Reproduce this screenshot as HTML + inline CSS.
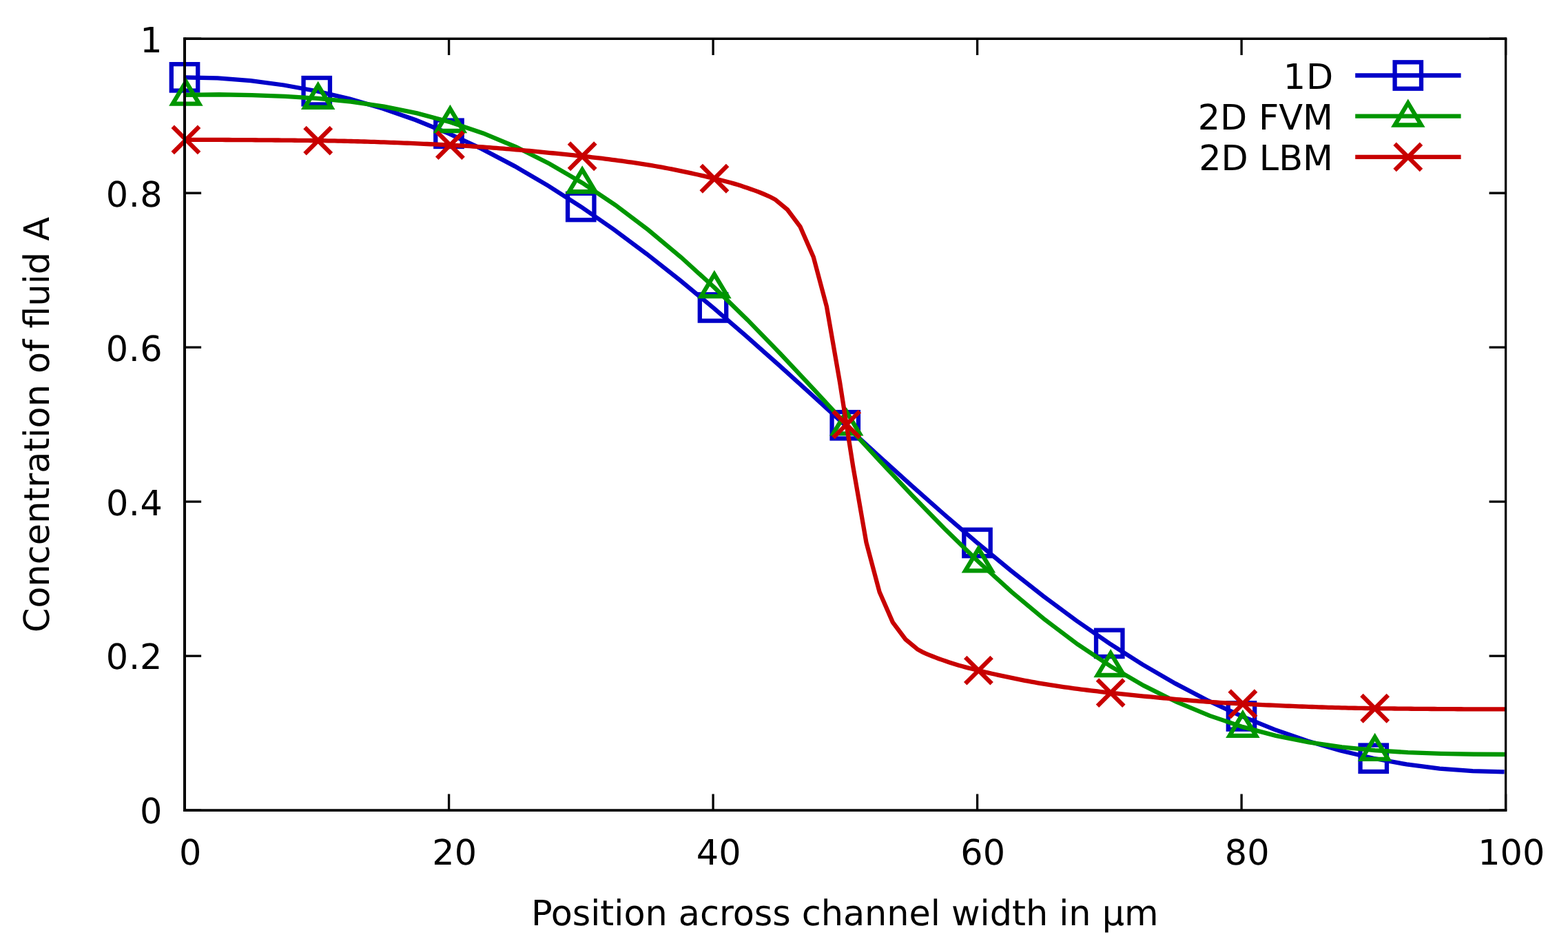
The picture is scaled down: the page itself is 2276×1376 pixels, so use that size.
<!DOCTYPE html>
<html lang="en"><head><meta charset="utf-8"><title>Concentration of fluid A across channel width</title>
<style>html,body{margin:0;padding:0;background:#fff;}body{width:2276px;height:1376px;overflow:hidden;}svg{display:block;}text{font-family:"DejaVu Sans","Liberation Sans",sans-serif;font-size:50.9px;fill:#000;text-rendering:geometricPrecision;}</style></head><body>
<svg xmlns="http://www.w3.org/2000/svg" width="2276" height="1376" viewBox="0 0 2276 1376">
<rect x="0" y="0" width="2276" height="1376" fill="#ffffff"/>
<defs><clipPath id="plotclip"><rect x="268" y="56" width="1917.5" height="1120"/></clipPath></defs>
<g id="ylabels">
<text text-anchor="start" x="202.97" y="1194.6">0</text>
<text text-anchor="start" x="153.86 186.92 203.05" y="970.8">0.2</text>
<text text-anchor="start" x="153.96 186.87 203.39" y="747.9">0.4</text>
<text text-anchor="start" x="153.86 186.87 203.29" y="524.1">0.6</text>
<text text-anchor="start" x="153.77 186.87 203.2" y="299.6">0.8</text>
<text text-anchor="start" x="203.17" y="75.6">1</text>
</g>
<g id="xlabels" text-anchor="middle">
<text x="276.2" y="1255.2">0</text>
<text x="659.7" y="1255.2">20</text>
<text x="1043.2" y="1255.2">40</text>
<text x="1426.7" y="1255.2">60</text>
<text x="1810.2" y="1255.2">80</text>
<text x="2193.7" y="1255.2">100</text>
</g>
<text id="xtitle" text-anchor="middle" x="1226.25" y="1343" textLength="910.7" lengthAdjust="spacing">Position across channel width in µm</text>
<text id="ytitle" text-anchor="middle" transform="translate(71,616.5) rotate(-90)">Concentration of fluid A</text>
<g id="s0" fill="none" stroke="#0000c8" stroke-width="6.3" stroke-linejoin="miter" stroke-linecap="butt">
<text x="1862.72 1896.11" y="129.4" text-anchor="start" stroke="none">1D</text>
<path d="M1967.2,109.5 L2120.6,109.5"/>
<rect x="2024.6" y="90.3" width="38.4" height="38.4"/>
<polyline clip-path="url(#plotclip)" points="268,112.34 315.94,113.45 363.88,117.22 411.81,123.5 459.75,132.23 507.69,143.56 555.62,157.56 603.56,174.29 651.5,193.78 699.44,216.18 747.38,241.38 795.31,269.36 843.25,300.02 891.19,333.26 939.12,368.9 987.06,406.71 1035,446.41 1082.94,487.7 1130.88,530.2 1178.81,573.53 1226.75,617.28 1274.69,661.01 1322.62,704.3 1370.56,746.75 1418.5,787.95 1466.44,827.55 1514.38,865.24 1562.31,900.75 1610.25,933.84 1658.19,964.35 1706.12,992.16 1754.06,1017.2 1802,1039.44 1849.94,1058.87 1897.88,1075.53 1945.81,1089.47 1993.75,1100.75 2041.69,1109.43 2089.62,1115.56 2137.56,1119.2 2183.58,1120.36"/>
<rect x="248.8" y="93.14" width="38.4" height="38.4"/>
<rect x="440.55" y="113.03" width="38.4" height="38.4"/>
<rect x="632.3" y="174.58" width="38.4" height="38.4"/>
<rect x="824.05" y="280.82" width="38.4" height="38.4"/>
<rect x="1015.8" y="427.21" width="38.4" height="38.4"/>
<rect x="1207.55" y="598.08" width="38.4" height="38.4"/>
<rect x="1399.3" y="768.75" width="38.4" height="38.4"/>
<rect x="1591.05" y="914.64" width="38.4" height="38.4"/>
<rect x="1782.8" y="1020.24" width="38.4" height="38.4"/>
<rect x="1974.55" y="1081.55" width="38.4" height="38.4"/>
</g>
<g id="s1" fill="none" stroke="#009600" stroke-width="6.3" stroke-linejoin="miter" stroke-linecap="butt">
<text x="1738.7 1771.08 1810.83 1827 1856.27 1891.08" y="187.6" text-anchor="start" stroke="none">2D FVM</text>
<path d="M1967.2,168.7 L2120.6,168.7"/>
<path d="M2024.6,181.5 L2043.8,149.5 L2063,181.5 Z"/>
<polyline clip-path="url(#plotclip)" points="269.92,137.81 317.86,137.27 365.79,138.17 413.73,139.94 461.67,142.97 509.61,147.73 557.54,154.71 605.48,164.39 653.42,177.19 701.36,193.46 749.29,213.48 797.23,237.43 845.17,265.45 893.11,297.56 941.04,333.71 988.98,373.76 1036.92,417.39 1084.86,464.16 1132.79,513.47 1180.73,564.56 1228.67,616.56 1276.61,668.55 1324.54,719.6 1372.48,768.86 1420.42,815.58 1468.36,859.14 1516.29,899.1 1564.23,935.17 1612.17,967.2 1660.11,995.12 1708.04,1018.99 1755.98,1038.92 1803.92,1055.12 1851.86,1067.85 1899.79,1077.46 1947.73,1084.39 1995.67,1089.11 2043.61,1092.11 2091.54,1093.86 2139.48,1094.74 2187.42,1095"/>
<path d="M250.72,150.61 L269.92,118.61 L289.12,150.61 Z"/>
<path d="M442.47,155.77 L461.67,123.77 L480.87,155.77 Z"/>
<path d="M634.22,189.99 L653.42,157.99 L672.62,189.99 Z"/>
<path d="M825.97,278.25 L845.17,246.25 L864.37,278.25 Z"/>
<path d="M1017.72,430.19 L1036.92,398.19 L1056.12,430.19 Z"/>
<path d="M1209.47,629.36 L1228.67,597.36 L1247.87,629.36 Z"/>
<path d="M1401.22,828.38 L1420.42,796.38 L1439.62,828.38 Z"/>
<path d="M1592.97,980 L1612.17,948 L1631.37,980 Z"/>
<path d="M1784.72,1067.92 L1803.92,1035.92 L1823.12,1067.92 Z"/>
<path d="M1976.47,1101.91 L1995.67,1069.91 L2014.87,1101.91 Z"/>
</g>
<g id="s2" fill="none" stroke="#c80000" stroke-width="6.3" stroke-linejoin="miter" stroke-linecap="butt">
<text x="1740.2 1772.5 1811.64 1827.81 1856.17 1891.08" y="246.8" text-anchor="start" stroke="none">2D LBM</text>
<path d="M1967.2,227.9 L2120.6,227.9"/>
<path d="M2024.6,208.7 L2063,247.1 M2024.6,247.1 L2063,208.7"/>
<polyline clip-path="url(#plotclip)" points="269.92,202.85 274.71,202.85 279.5,202.85 284.3,202.86 289.09,202.87 293.89,202.88 298.68,202.89 303.47,202.9 308.27,202.91 313.06,202.93 317.86,202.95 322.65,202.97 327.44,202.99 332.24,203.01 337.03,203.04 341.82,203.06 346.62,203.09 351.41,203.12 356.2,203.15 361,203.18 365.79,203.21 370.59,203.25 375.38,203.28 380.17,203.32 384.97,203.36 389.76,203.4 394.56,203.44 399.35,203.48 404.14,203.52 408.94,203.57 413.73,203.61 418.52,203.66 423.32,203.7 428.11,203.75 432.9,203.8 437.7,203.85 442.49,203.9 447.29,203.95 452.08,204 456.87,204.05 461.67,204.1 466.46,204.16 471.25,204.22 476.05,204.29 480.84,204.37 485.64,204.45 490.43,204.54 495.22,204.64 500.02,204.75 504.81,204.86 509.61,204.98 514.4,205.1 519.19,205.23 523.99,205.36 528.78,205.5 533.57,205.65 538.37,205.8 543.16,205.96 547.95,206.12 552.75,206.28 557.54,206.45 562.34,206.63 567.13,206.81 571.92,206.99 576.72,207.18 581.51,207.37 586.31,207.57 591.1,207.76 595.89,207.97 600.69,208.17 605.48,208.38 610.27,208.59 615.07,208.81 619.86,209.02 624.65,209.24 629.45,209.46 634.24,209.69 639.04,209.91 643.83,210.14 648.62,210.37 653.42,210.6 658.21,210.84 663,211.09 667.8,211.35 672.59,211.62 677.39,211.9 682.18,212.2 686.97,212.5 691.77,212.81 696.56,213.14 701.36,213.47 706.15,213.81 710.94,214.17 715.74,214.53 720.53,214.9 725.32,215.28 730.12,215.66 734.91,216.06 739.7,216.46 744.5,216.87 749.29,217.28 754.09,217.71 758.88,218.13 763.67,218.57 768.47,219.01 773.26,219.46 778.06,219.91 782.85,220.37 787.64,220.84 792.44,221.3 797.23,221.78 802.02,222.25 806.82,222.74 811.61,223.22 816.4,223.71 821.2,224.2 825.99,224.7 830.79,225.19 835.58,225.69 840.37,226.2 845.17,226.7 849.96,227.21 854.75,227.74 859.55,228.27 864.34,228.82 869.14,229.39 873.93,229.96 878.72,230.55 883.52,231.15 888.31,231.77 893.11,232.4 897.9,233.04 902.69,233.69 907.49,234.36 912.28,235.04 917.07,235.73 921.87,236.44 926.66,237.16 931.46,237.9 936.25,238.64 941.04,239.4 945.84,240.19 950.63,241 955.42,241.84 960.22,242.71 965.01,243.6 969.8,244.51 974.6,245.45 979.39,246.4 984.19,247.38 988.98,248.37 993.77,249.37 998.57,250.39 1003.36,251.43 1008.15,252.47 1012.95,253.52 1017.74,254.59 1022.54,255.67 1027.33,256.82 1032.12,258 1036.92,259.2 1041.71,260.37 1046.51,261.54 1051.3,262.72 1056.09,263.94 1060.89,265.23 1065.68,266.6 1070.47,268.05 1075.27,269.57 1080.06,271.14 1084.86,272.76 1089.65,274.41 1094.44,276.11 1099.24,277.9 1104.03,279.8 1108.82,281.76 1113.62,283.77 1118.41,285.97 1125.51,289.8 1142.96,304.3 1161.55,329.2 1180.73,373 1199.9,445 1219.08,555 1238.26,677.3 1257.43,787.3 1276.61,859.3 1295.78,903.1 1314.38,928 1331.83,942.5 1338.92,946.33 1343.72,948.53 1348.51,950.54 1353.31,952.5 1358.1,954.4 1362.89,956.19 1367.69,957.89 1372.48,959.54 1377.27,961.16 1382.07,962.73 1386.86,964.25 1391.65,965.7 1396.45,967.07 1401.24,968.36 1406.04,969.58 1410.83,970.76 1415.62,971.93 1420.42,973.1 1425.21,974.3 1430.01,975.48 1434.8,976.63 1439.59,977.71 1444.39,978.78 1449.18,979.83 1453.97,980.87 1458.77,981.91 1463.56,982.93 1468.36,983.93 1473.15,984.92 1477.94,985.9 1482.74,986.85 1487.53,987.79 1492.32,988.7 1497.12,989.59 1501.91,990.46 1506.7,991.3 1511.5,992.11 1516.29,992.9 1521.09,993.66 1525.88,994.4 1530.67,995.14 1535.47,995.86 1540.26,996.57 1545.05,997.26 1549.85,997.94 1554.64,998.61 1559.44,999.26 1564.23,999.9 1569.02,1000.53 1573.82,1001.15 1578.61,1001.75 1583.4,1002.34 1588.2,1002.91 1592.99,1003.48 1597.79,1004.03 1602.58,1004.56 1607.37,1005.09 1612.17,1005.6 1616.96,1006.1 1621.76,1006.61 1626.55,1007.11 1631.34,1007.6 1636.14,1008.1 1640.93,1008.59 1645.72,1009.08 1650.52,1009.56 1655.31,1010.05 1660.11,1010.52 1664.9,1011 1669.69,1011.46 1674.49,1011.93 1679.28,1012.39 1684.07,1012.84 1688.87,1013.29 1693.66,1013.73 1698.45,1014.17 1703.25,1014.59 1708.04,1015.02 1712.84,1015.43 1717.63,1015.84 1722.42,1016.24 1727.22,1016.64 1732.01,1017.02 1736.81,1017.4 1741.6,1017.77 1746.39,1018.13 1751.19,1018.49 1755.98,1018.83 1760.77,1019.16 1765.57,1019.49 1770.36,1019.8 1775.15,1020.1 1779.95,1020.4 1784.74,1020.68 1789.54,1020.95 1794.33,1021.21 1799.12,1021.46 1803.92,1021.7 1808.71,1021.93 1813.51,1022.16 1818.3,1022.39 1823.09,1022.61 1827.89,1022.84 1832.68,1023.06 1837.47,1023.28 1842.27,1023.49 1847.06,1023.71 1851.86,1023.92 1856.65,1024.13 1861.44,1024.33 1866.24,1024.54 1871.03,1024.73 1875.82,1024.93 1880.62,1025.12 1885.41,1025.31 1890.21,1025.49 1895,1025.67 1899.79,1025.85 1904.59,1026.02 1909.38,1026.18 1914.17,1026.34 1918.97,1026.5 1923.76,1026.65 1928.56,1026.8 1933.35,1026.94 1938.14,1027.07 1942.94,1027.2 1947.73,1027.32 1952.52,1027.44 1957.32,1027.55 1962.11,1027.66 1966.91,1027.76 1971.7,1027.85 1976.49,1027.93 1981.29,1028.01 1986.08,1028.08 1990.87,1028.14 1995.67,1028.2 2000.46,1028.25 2005.26,1028.3 2010.05,1028.35 2014.84,1028.4 2019.64,1028.45 2024.43,1028.5 2029.22,1028.55 2034.02,1028.6 2038.81,1028.64 2043.61,1028.69 2048.4,1028.73 2053.19,1028.78 2057.99,1028.82 2062.78,1028.86 2067.57,1028.9 2072.37,1028.94 2077.16,1028.98 2081.96,1029.02 2086.75,1029.05 2091.54,1029.09 2096.34,1029.12 2101.13,1029.15 2105.92,1029.18 2110.72,1029.21 2115.51,1029.24 2120.31,1029.26 2125.1,1029.29 2129.89,1029.31 2134.69,1029.33 2139.48,1029.35 2144.27,1029.37 2149.07,1029.39 2153.86,1029.4 2158.66,1029.41 2163.45,1029.42 2168.24,1029.43 2173.04,1029.44 2177.83,1029.45 2182.62,1029.45 2187.42,1029.45"/>
<path d="M250.72,183.65 L289.12,222.05 M250.72,222.05 L289.12,183.65"/>
<path d="M442.47,184.9 L480.87,223.3 M442.47,223.3 L480.87,184.9"/>
<path d="M634.22,191.4 L672.62,229.8 M634.22,229.8 L672.62,191.4"/>
<path d="M825.97,207.5 L864.37,245.9 M825.97,245.9 L864.37,207.5"/>
<path d="M1017.72,240 L1056.12,278.4 M1017.72,278.4 L1056.12,240"/>
<path d="M1209.47,596.95 L1247.87,635.35 M1209.47,635.35 L1247.87,596.95"/>
<path d="M1401.22,953.9 L1439.62,992.3 M1401.22,992.3 L1439.62,953.9"/>
<path d="M1592.97,986.4 L1631.37,1024.8 M1592.97,1024.8 L1631.37,986.4"/>
<path d="M1784.72,1002.5 L1823.12,1040.9 M1784.72,1040.9 L1823.12,1002.5"/>
<path d="M1976.47,1009 L2014.87,1047.4 M1976.47,1047.4 L2014.87,1009"/>
</g>
<g id="axes" fill="none" stroke="#000" stroke-width="3.3" stroke-linecap="butt" stroke-linejoin="miter">
<path id="ticks" d="M268.1,1176.15 h24 M2185.6,1176.15 h-24 M268.1,1176.15 v-23.6 M268.1,56.25 v23.8 M268.1,952.17 h24 M2185.6,952.17 h-24 M651.6,1176.15 v-23.6 M651.6,56.25 v23.8 M268.1,728.19 h24 M2185.6,728.19 h-24 M1035.1,1176.15 v-23.6 M1035.1,56.25 v23.8 M268.1,504.21 h24 M2185.6,504.21 h-24 M1418.6,1176.15 v-23.6 M1418.6,56.25 v23.8 M268.1,280.23 h24 M2185.6,280.23 h-24 M1802.1,1176.15 v-23.6 M1802.1,56.25 v23.8 M268.1,56.25 h24 M2185.6,56.25 h-24 M2185.6,1176.15 v-23.6 M2185.6,56.25 v23.8"/>
<path id="border-top" stroke-width="3.4" d="M266,56.25 H2187.2"/>
<path id="border-bottom" stroke-width="3.6" d="M266,1176.15 H2187.2"/>
<path id="border-right" stroke-width="3.3" d="M2185.6,54.5 V1177.95"/>
<path id="border-left" stroke-width="4" d="M268,54.5 V1177.95"/>
</g>
</svg></body></html>
